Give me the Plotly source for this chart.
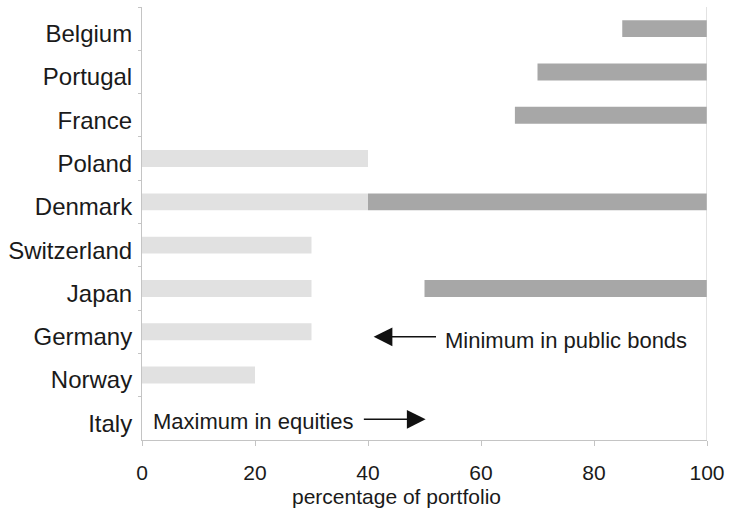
import plotly.graph_objects as go

countries = ["Belgium", "Portugal", "France", "Poland", "Denmark",
             "Switzerland", "Japan", "Germany", "Norway", "Italy"]
equity_max = [None, None, None, 40, 40, 30, 30, 30, 20, None]
bond_min = [85, 70, 66, None, 40, None, 50, None, None, None]
bond_upper = [100, 100, 100, None, 100, None, 100, None, None, None]
x_ticks = [0, 20, 40, 60, 80, 100]

bond_len = [None if b is None else u - b for b, u in zip(bond_min, bond_upper)]

FONT = "Liberation Sans, Arial, sans-serif"
AX = "#c4c4c4"

fig = go.Figure()
fig.add_trace(go.Bar(
    y=countries, x=equity_max, base=0, orientation="h",
    marker=dict(color="#e1e1e1", line=dict(width=0)), width=0.39,
    name="Maximum in equities", showlegend=False))
fig.add_trace(go.Bar(
    y=countries, x=bond_len, base=bond_min, orientation="h",
    marker=dict(color="#a7a7a7", line=dict(width=0)), width=0.39,
    name="Minimum in public bonds", showlegend=False))

fig.update_layout(
    barmode="overlay",
    width=734, height=511,
    margin=dict(l=142, r=27, t=7, b=71),
    plot_bgcolor="white", paper_bgcolor="white",
    font=dict(family=FONT, color="#1a1a1a"),
    xaxis=dict(range=[0, 100], tickvals=x_ticks, ticktext=[str(v) for v in x_ticks],
               showgrid=False, zeroline=False, showline=True, linecolor=AX, linewidth=1,
               ticks="outside", ticklen=5, tickcolor=AX,
               tickfont=dict(size=21, color="#1a1a1a"), ticklabelstandoff=9),
    yaxis=dict(categoryorder="array", categoryarray=countries, autorange="reversed",
               showgrid=False, zeroline=False, showline=True, linecolor=AX, linewidth=1,
               ticks="outside", ticklen=3, tickcolor=AX, tickson="boundaries",
               tickfont=dict(size=24, color="#1a1a1a"), ticklabelstandoff=4,
               ticklabelshift=-5),
    shapes=[dict(type="line", xref="x", yref="paper", x0=100, x1=100, y0=0, y1=1,
                 line=dict(color=AX, width=1))],
)

# x-axis title
fig.add_annotation(text="percentage of portfolio", xref="paper", yref="paper",
                   x=(396 - 142) / (707 - 142), y=-0.131, showarrow=False,
                   xanchor="center", yanchor="middle", font=dict(size=21, color="#1a1a1a"))

# arrows
fig.add_annotation(x=41, y="Germany", ax=52.3, ay=0, axref="x", text="",
                   showarrow=True, arrowhead=2, arrowsize=2.5, arrowwidth=1.5,
                   arrowcolor="#111111", yshift=-5)
fig.add_annotation(x=53.2, y="Germany", text="Minimum in public bonds", showarrow=False,
                   xanchor="left", yanchor="middle", yshift=-9,
                   font=dict(size=22, color="#1a1a1a"))
fig.add_annotation(x=50.2, y="Italy", ax=39, ay=0, axref="x", text="",
                   showarrow=True, arrowhead=2, arrowsize=2.5, arrowwidth=1.5,
                   arrowcolor="#111111", yshift=-1)
fig.add_annotation(x=1.6, y="Italy", text="Maximum in equities", showarrow=False,
                   xanchor="left", yanchor="middle", yshift=-3,
                   font=dict(size=22, color="#1a1a1a"))

fig.write_html("out.html", config={"displayModeBar": False},
               post_script="document.body.style.margin='0';")
